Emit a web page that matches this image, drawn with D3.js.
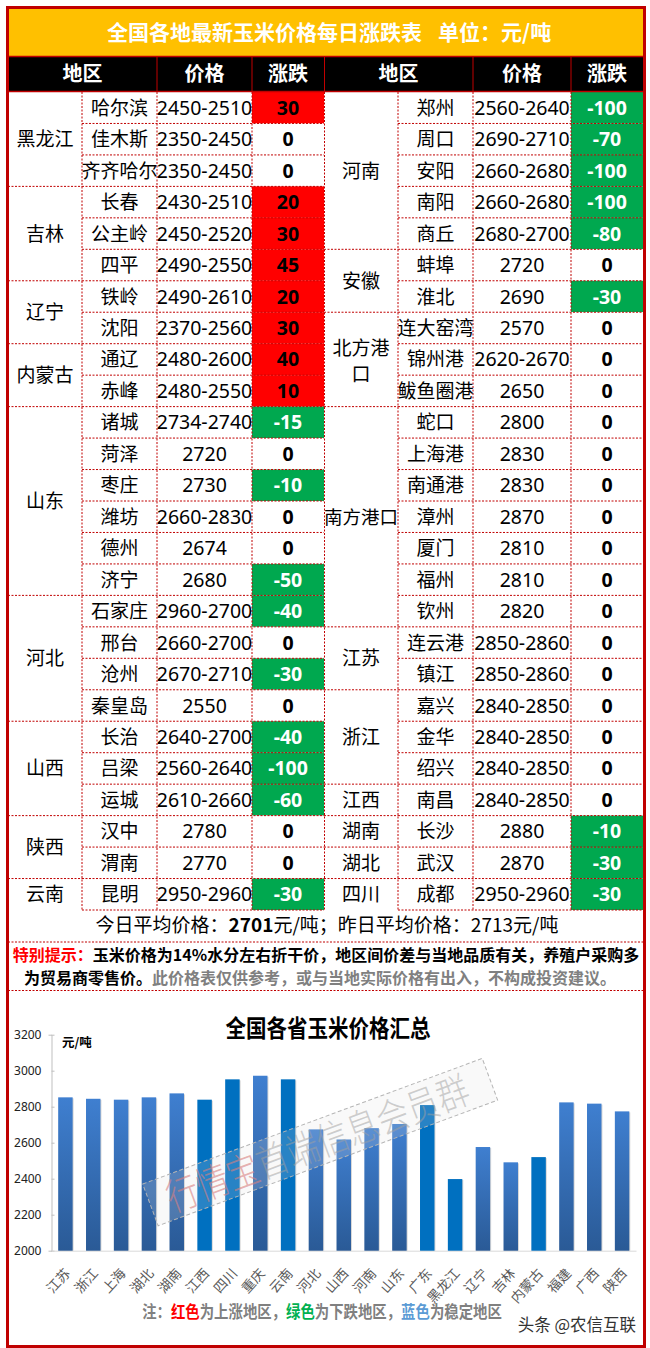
<!DOCTYPE html>
<html>
<head>
<meta charset="utf-8">
<script src="https://cdnjs.cloudflare.com/ajax/libs/d3/7.8.5/d3.min.js"></script>
<style>
html, body { margin: 0; padding: 0; background: #fff; }
svg { display: block; }
text { font-family: "Noto Sans CJK SC", "Noto Sans", sans-serif; }
.num { font-family: "Noto Sans", "Noto Sans CJK SC", sans-serif; }
</style>
</head>
<body>
<svg id="viz" width="650" height="1348"></svg>
<script>
// left half of the table
var leftProvinces = ["黑龙江", "吉林", "辽宁", "内蒙古", "山东", "河北", "山西", "陕西", "云南"];
var leftSpans = [3, 3, 2, 2, 6, 4, 3, 2, 1];
var leftCities = ["哈尔滨", "佳木斯", "齐齐哈尔", "长春", "公主岭", "四平", "铁岭", "沈阳", "通辽", "赤峰",
	"诸城", "菏泽", "枣庄", "潍坊", "德州", "济宁", "石家庄", "邢台", "沧州", "秦皇岛",
	"长治", "吕梁", "运城", "汉中", "渭南", "昆明"];
var leftPrices = ["2450-2510", "2350-2450", "2350-2450", "2430-2510", "2450-2520", "2490-2550", "2490-2610", "2370-2560", "2480-2600", "2480-2550",
	"2734-2740", "2720", "2730", "2660-2830", "2674", "2680", "2960-2700", "2660-2700", "2670-2710", "2550",
	"2640-2700", "2560-2640", "2610-2660", "2780", "2770", "2950-2960"];
var leftChanges = [30, 0, 0, 20, 30, 45, 20, 30, 40, 10, -15, 0, -10, 0, 0, -50, -40, 0, -30, 0, -40, -100, -60, 0, 0, -30];

// right half of the table
var rightProvinces = ["河南", "安徽", "北方港口", "南方港口", "江苏", "浙江", "江西", "湖南", "湖北", "四川"];
var rightSpans = [5, 2, 3, 7, 2, 3, 1, 1, 1, 1];
var rightCities = ["郑州", "周口", "安阳", "南阳", "商丘", "蚌埠", "淮北", "连大窑湾", "锦州港", "鲅鱼圈港",
	"蛇口", "上海港", "南通港", "漳州", "厦门", "福州", "钦州", "连云港", "镇江", "嘉兴",
	"金华", "绍兴", "南昌", "长沙", "武汉", "成都"];
var rightPrices = ["2560-2640", "2690-2710", "2660-2680", "2660-2680", "2680-2700", "2720", "2690", "2570", "2620-2670", "2650",
	"2800", "2830", "2830", "2870", "2810", "2810", "2820", "2850-2860", "2850-2860", "2840-2850",
	"2840-2850", "2840-2850", "2840-2850", "2880", "2870", "2950-2960"];
var rightChanges = [-100, -70, -100, -100, -80, 0, -30, 0, 0, 0, 0, 0, 0, 0, 0, 0, 0, 0, 0, 0, 0, 0, 0, -10, -30, -30];

// bar chart
var chartProvinces = ["江苏", "浙江", "上海", "湖北", "湖南", "江西", "四川", "重庆", "云南", "河北", "山西",
	"河南", "山东", "广东", "黑龙江", "辽宁", "吉林", "内蒙古", "福建", "广西", "陕西"];
var chartPrices = [2852, 2844, 2839, 2852, 2874, 2839, 2952, 2972, 2952, 2674, 2618,
	2681, 2704, 2809, 2398, 2576, 2491, 2520, 2824, 2817, 2774];
var solidBars = ["江西", "四川", "云南", "广东", "黑龙江", "内蒙古"];
var chartTicks = [2000, 2200, 2400, 2600, 2800, 3000, 3200];

var RED = "#c00000";
var svg = d3.select("#viz");
var defs = svg.append("defs");
var grad = defs.append("linearGradient").attr("id", "barGrad").attr("x1", 0).attr("x2", 0).attr("y1", 0).attr("y2", 1);
grad.append("stop").attr("offset", "0%").attr("stop-color", "#3f7fd0");
grad.append("stop").attr("offset", "100%").attr("stop-color", "#2a5a96");

var rowY = d3.scaleLinear().domain([0, 26]).range([92, 910]);

function dash(x1, y1, x2, y2, g) {
	(g || svg).append("line").attr("x1", x1).attr("y1", y1).attr("x2", x2).attr("y2", y2)
		.attr("stroke", RED).attr("stroke-width", 1).attr("stroke-dasharray", "2,1.5");
}

// header band
svg.append("rect").attr("x", 8).attr("y", 8).attr("width", 635).attr("height", 48).attr("fill", "#ffc000");
svg.append("rect").attr("x", 8).attr("y", 57).attr("width", 635).attr("height", 34).attr("fill", "#000");
svg.append("text").attr("x", 107).attr("y", 40).attr("fill", "#fff")
	.attr("font-size", 21).attr("font-weight", 700).text("全国各地最新玉米价格每日涨跌表");
svg.append("text").attr("x", 438).attr("y", 40).attr("fill", "#fff")
	.attr("font-size", 21).attr("font-weight", 700).text("单位：元/吨");

function drawHalf(cols, provinces, spans, cities, prices, changes) {
	var g = svg.append("g");

	// colored change cells first, dashes go on top
	g.selectAll("rect.chg").data(changes).enter().append("rect").attr("class", "chg")
		.attr("x", cols[3]).attr("y", function(d, i) { return rowY(i); })
		.attr("width", cols[4] - cols[3]).attr("height", rowY(1) - rowY(0))
		.attr("fill", function(d) { return d > 0 ? "#ff0000" : d < 0 ? "#00a84f" : "#fff"; });

	// column headers
	[["地区", (cols[0] + cols[2]) / 2], ["价格", (cols[2] + cols[3]) / 2], ["涨跌", (cols[3] + cols[4]) / 2]].forEach(function(h) {
		g.append("text").attr("x", h[1]).attr("y", 81).attr("text-anchor", "middle").attr("fill", "#fff")
			.attr("font-size", 20).attr("font-weight", 700).text(h[0]);
	});
	[cols[2], cols[3]].forEach(function(x) {
		g.append("line").attr("x1", x).attr("x2", x).attr("y1", 57).attr("y2", 91).attr("stroke", RED);
	});

	// row lines
	d3.range(1, 27).forEach(function(i) { dash(cols[1], rowY(i), cols[4], rowY(i), g); });
	[cols[1], cols[2], cols[3]].forEach(function(x) { dash(x, rowY(0), x, rowY(26), g); });

	// province cells
	var start = 0;
	provinces.forEach(function(p, k) {
		var mid = rowY(start + spans[k] / 2);
		var cx = (cols[0] + cols[1]) / 2;
		if (p === "北方港口") {
			g.append("text").attr("x", cx).attr("y", mid - 4).attr("text-anchor", "middle").attr("font-size", 19).text("北方港");
			g.append("text").attr("x", cx).attr("y", mid + 22).attr("text-anchor", "middle").attr("font-size", 19).text("口");
		} else {
			g.append("text").attr("x", cx).attr("y", mid + 7).attr("text-anchor", "middle").attr("font-size", p.length > 3 ? 18.5 : 19).text(p);
		}
		start += spans[k];
		if (start < 26) dash(cols[0], rowY(start), cols[1], rowY(start), g);
	});

	// cities, prices, changes
	cities.forEach(function(c, i) {
		var y = rowY(i + 0.5) + 7;
		g.append("text").attr("x", (cols[1] + cols[2]) / 2).attr("y", y).attr("text-anchor", "middle")
			.attr("font-size", 19).text(c);
		g.append("text").attr("class", "num").attr("x", (cols[2] + cols[3]) / 2).attr("y", y).attr("text-anchor", "middle")
			.attr("font-size", 19.5).attr("fill", "#000").text(prices[i]);
		g.append("text").attr("class", "num").attr("x", (cols[3] + cols[4]) / 2).attr("y", y).attr("text-anchor", "middle")
			.attr("font-size", 19.5).attr("font-weight", 700).attr("fill", changes[i] < 0 ? "#fff" : "#000").text(changes[i]);
	});
}

drawHalf([8, 82, 157, 252, 324], leftProvinces, leftSpans, leftCities, leftPrices, leftChanges);
drawHalf([324, 398, 473, 571, 643], rightProvinces, rightSpans, rightCities, rightPrices, rightChanges);

// header rules and middle divider
svg.append("line").attr("x1", 8).attr("x2", 643).attr("y1", 56.5).attr("y2", 56.5).attr("stroke", RED).attr("stroke-width", 1.5);
svg.append("line").attr("x1", 8).attr("x2", 643).attr("y1", 91.5).attr("y2", 91.5).attr("stroke", RED).attr("stroke-width", 1.5);
svg.append("line").attr("x1", 324.5).attr("x2", 324.5).attr("y1", 57).attr("y2", 91).attr("stroke", RED);
dash(324.5, 92, 324.5, 910);

// footer text
dash(8, 942, 643, 942);
dash(8, 990.5, 643, 990.5);

var avg = svg.append("text").attr("x", 327).attr("y", 932).attr("text-anchor", "middle").attr("font-size", 19);
avg.append("tspan").text("今日平均价格：");
avg.append("tspan").attr("font-weight", 700).text("2701");
avg.append("tspan").text("元/吨；昨日平均价格：2713元/吨");

var tip1 = svg.append("text").attr("x", 326).attr("y", 961).attr("text-anchor", "middle").attr("font-size", 16).attr("font-weight", 700);
tip1.append("tspan").attr("fill", "#ff0000").text("特别提示：");
tip1.append("tspan").text("玉米价格为14%水分左右折干价，地区间价差与当地品质有关，养殖户采购多");
var tip2 = svg.append("text").attr("x", 320).attr("y", 984).attr("text-anchor", "middle").attr("font-size", 16).attr("font-weight", 700);
tip2.append("tspan").text("为贸易商零售价。");
tip2.append("tspan").attr("fill", "#808080").text("此价格表仅供参考，或与当地实际价格有出入，不构成投资建议。");

// bar chart
svg.append("text").attr("transform", "translate(328,1037) scale(1,1.18)").attr("text-anchor", "middle").attr("font-size", 20.5).attr("font-weight", 700).text("全国各省玉米价格汇总");
svg.append("text").attr("x", 62).attr("y", 1047).attr("font-size", 12.5).attr("font-weight", 700).text("元/吨");

var x = d3.scaleBand().domain(chartProvinces).range([51.5, 636]).paddingInner(0.48).paddingOuter(0.24);
var y = d3.scaleLinear().domain([2000, 3200]).range([1250.7, 1034.7]);

var yAxis = svg.append("g").attr("transform", "translate(51.5,0)").call(d3.axisLeft(y).tickValues(chartTicks).tickSize(3).tickPadding(7).tickFormat(d3.format("d")));
yAxis.selectAll("path,line").attr("stroke", "#bfbfbf");
yAxis.selectAll("line").attr("x2", 3);
yAxis.selectAll("text").attr("font-size", 12).attr("fill", "#222").attr("class", "num");

var xAxis = svg.append("g").attr("transform", "translate(0,1250.7)").call(d3.axisBottom(x).tickSize(0).tickPadding(0));
xAxis.select("path").attr("stroke", "#d9d9d9");
xAxis.selectAll("text")
	.attr("font-size", 13.5).attr("fill", "#595959")
	.attr("text-anchor", "end")
	.attr("transform", "translate(2,20) rotate(-48)")
	.attr("dy", "0.35em");

svg.selectAll("rect.shadow").data(chartPrices).enter().append("rect").attr("class", "shadow")
	.attr("x", function(d, i) { return x(chartProvinces[i]) + 1; })
	.attr("y", function(d) { return y(d) + 1; })
	.attr("width", x.bandwidth()).attr("height", function(d) { return y(2000) - y(d) - 1; })
	.attr("fill", "#d8d8d8");
svg.selectAll("rect.bar").data(chartPrices).enter().append("rect").attr("class", "bar")
	.attr("x", function(d, i) { return x(chartProvinces[i]); })
	.attr("y", y)
	.attr("width", x.bandwidth()).attr("height", function(d) { return y(2000) - y(d); })
	.attr("fill", function(d, i) { return solidBars.indexOf(chartProvinces[i]) >= 0 ? "#0070c0" : "url(#barGrad)"; });

// watermark stamp across the bars
var stamp = svg.append("g").attr("transform", "translate(142.7,1184) rotate(-20.3)");
stamp.append("rect").attr("width", 362).attr("height", 44.5).attr("fill", "#e0e0e0").attr("fill-opacity", 0.18)
	.attr("stroke", "#b5b5b5").attr("stroke-dasharray", "4,2.5");
var stampText = stamp.append("text").attr("transform", "translate(18,37) scale(1,1.2)").attr("font-size", 32).attr("font-weight", 300);
stampText.append("tspan").attr("fill", "#d88080").attr("fill-opacity", 0.6).text("行情宝");
stampText.append("tspan").attr("fill", "#a0a0a0").attr("fill-opacity", 0.5).text("首端信息会员群");

// chart note and source mark
var note = svg.append("text").attr("transform", "translate(322,1318) scale(1,1.15)").attr("text-anchor", "middle").attr("font-size", 14.4).attr("font-weight", 700).attr("fill", "#808080");
note.append("tspan").text("注：");
note.append("tspan").attr("fill", "#ff0000").text("红色");
note.append("tspan").text("为上涨地区，");
note.append("tspan").attr("fill", "#00b050").text("绿色");
note.append("tspan").text("为下跌地区，");
note.append("tspan").attr("fill", "#5b9bd5").text("蓝色");
note.append("tspan").text("为稳定地区");
svg.append("text").attr("x", 636).attr("y", 1331).attr("text-anchor", "end").attr("font-size", 16.5).attr("fill", "#333").text("头条 @农信互联");

// outer frame
svg.append("rect").attr("x", 7.5).attr("y", 7.5).attr("width", 637).attr("height", 1339).attr("fill", "none").attr("stroke", RED).attr("stroke-width", 3);
</script>
</body>
</html>
